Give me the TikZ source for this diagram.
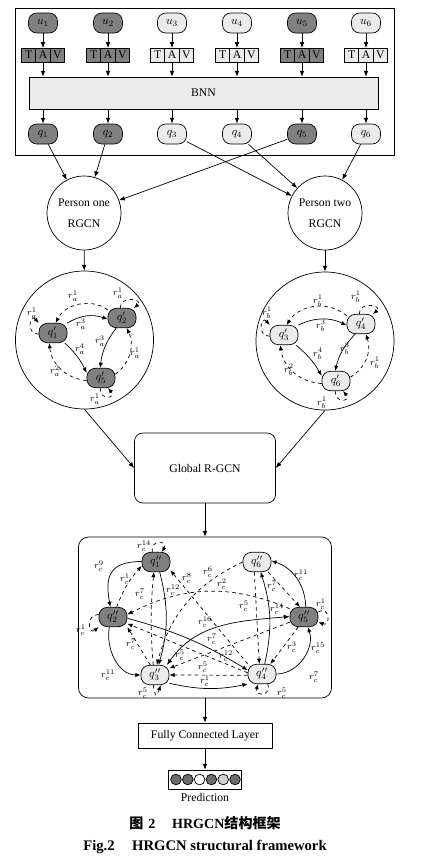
\documentclass[tikz,border=0pt]{standalone}
\usepackage{fontspec}
\setmainfont{Liberation Serif}
\newfontfamily\cjk{Noto Sans CJK SC}
\usetikzlibrary{arrows.meta,positioning}
\definecolor{nodedark}{gray}{0.5}
\definecolor{nodelight}{gray}{0.92}
\definecolor{preddark}{gray}{0.42}
\definecolor{predlight}{gray}{0.82}
\tikzset{
  >={Latex[length=5pt,width=4pt]},
  unode/.style={draw,rounded corners=0.25cm,minimum width=0.87cm,minimum height=0.6cm,inner sep=0pt},
  gnode/.style={unode,minimum width=0.84cm,minimum height=0.58cm},
  darknode/.style={fill=nodedark},
  lightnode/.style={fill=nodelight},
  cell/.style={draw,minimum width=0.43cm,minimum height=0.42cm,inner sep=0pt,outer sep=0pt},
  flow/.style={-{Latex[length=4.5pt,width=3.6pt]}},
  rel/.style={flow,dashed},
  lbl/.style={font=\footnotesize,inner sep=0pt},
}
\begin{document}
\begin{tikzpicture}[x=0.03cm,y=-0.03cm,line width=0.6pt]
\useasboundingbox (0,0) rectangle (423,862);
\node[draw,minimum width=11.37cm,minimum height=4.41cm] (top) at (204.5,81.5) {};
\node[draw,fill=nodelight,minimum width=10.47cm,minimum height=0.96cm] (bnn) at (203.5,93) {BNN};
\foreach \x/\tone [count=\i] in {43/darknode,108/darknode,172/lightnode,237/lightnode,302/darknode,366/lightnode}{
  \node[unode,\tone] (u\i) at (\x,23) {$u_{\i}$};
  \node[cell,\tone] (A\i) at (\x,55) {A};
  \node[cell,\tone,left=0pt of A\i] (T\i) {T};
  \node[cell,\tone,right=0pt of A\i] (V\i) {V};
  \node[unode,\tone] (q\i) at (\x,134) {$q_{\i}$};
  \draw[->] (u\i) -- (A\i);
  \draw[->] (A\i) -- (A\i |- bnn.north);
  \draw[->] (A\i |- bnn.south) -- (q\i);
}
\node[circle,draw,minimum size=2.22cm,align=center,inner sep=0pt] (p1) at (84,213) {Person one\\[6pt]RGCN};
\node[circle,draw,minimum size=2.22cm,align=center,inner sep=0pt] (p2) at (325,213) {Person two\\[6pt]RGCN};
\foreach \i in {1,2,5} \draw[->] (q\i) -- (p1);
\foreach \i in {3,4,6} \draw[->] (q\i) -- (p2);
\node[circle,draw,minimum size=4.14cm] (g1) at (84.5,340) {};
\node[circle,draw,minimum size=4.14cm] (g2) at (325,341) {};
\draw[->] (p1) -- (g1);
\draw[->] (p2) -- (g2);
\node[gnode,darknode] (a1) at (53,333) {$q'_1$};
\node[gnode,darknode] (a2) at (122,318) {$q'_2$};
\node[gnode,darknode] (a5) at (101,378) {$q'_5$};
\draw[rel] (a2.150) to[bend right=50] (a1.75) node[lbl] at (73,296) {$r_a^1$};
\draw[flow] (a1.35) to[bend left=25] (a2.185) node[lbl] at (81,324) {$r_a^3$};
\draw[rel] (a1.185) .. controls +(180:4mm) and +(130:4mm) .. (a1.145) node[lbl] at (32,313) {$r_a^1$};
\draw[rel] (a2.100) .. controls +(90:4mm) and +(40:4mm) .. (a2.40) node[lbl] at (118,293) {$r_a^1$};
\draw[flow] (a2.240) to[bend right=15] (a5.95) node[lbl] at (100,341) {$r_a^3$};
\draw[rel] (a5.15) to[bend right=40] (a2.295) node[lbl] at (135,353) {$r_a^1$};
\draw[flow] (a1.320) to[bend left=10] (a5.160) node[lbl] at (80,349) {$r_a^4$};
\draw[rel] (a5.190) to[bend left=40] (a1.250) node[lbl] at (55,371) {$r_a^2$};
\draw[rel] (a5.265) .. controls +(-90:4mm) and +(-50:4mm) .. (a5.305) node[lbl] at (95,399) {$r_a^1$};
\node[gnode,lightnode] (b3) at (284,335) {$q'_3$};
\node[gnode,lightnode] (b4) at (361,324) {$q'_4$};
\node[gnode,lightnode] (b6) at (336,381) {$q'_6$};
\draw[rel] (b4.150) to[bend right=50] (b3.75) node[lbl] at (318,301) {$r_b^1$};
\draw[flow] (b3.35) to[bend left=25] (b4.185) node[lbl] at (321,326) {$r_b^3$};
\draw[rel] (b3.185) .. controls +(180:4mm) and +(130:4mm) .. (b3.145) node[lbl] at (267,313) {$r_b^1$};
\draw[rel] (b4.100) .. controls +(90:4mm) and +(40:4mm) .. (b4.40) node[lbl] at (356,297) {$r_b^1$};
\draw[flow] (b4.240) to[bend right=15] (b6.95) node[lbl] at (345,349) {$r_b^3$};
\draw[rel] (b6.15) to[bend right=40] (b4.295) node[lbl] at (375,363) {$r_b^1$};
\draw[flow] (b3.320) to[bend left=10] (b6.160) node[lbl] at (318,354) {$r_b^4$};
\draw[rel] (b6.190) to[bend left=40] (b3.250) node[lbl] at (289,370) {$r_b^2$};
\draw[rel] (b6.265) .. controls +(-90:4mm) and +(-50:4mm) .. (b6.305) node[lbl] at (322,403) {$r_b^1$};
\node[draw,rounded corners=0.25cm,minimum width=4.23cm,minimum height=2.1cm] (glob) at (205,468) {Global R-GCN};
\draw[->] (g1.south) -- (glob.west);
\draw[->] (g2.south) -- (glob.east);
\node[draw,rounded corners=0.3cm,minimum width=7.59cm,minimum height=4.83cm] (hg) at (205,617.5) {};
\draw[->] (glob) -- (hg);
\node[gnode,darknode] (c1) at (156,562) {$q''_1$};
\node[gnode,darknode] (c2) at (113,617) {$q''_2$};
\node[gnode,lightnode] (c3) at (155,675) {$q''_3$};
\node[gnode,lightnode] (c4) at (262,674) {$q''_4$};
\node[gnode,darknode] (c5) at (304,617) {$q''_5$};
\node[gnode,lightnode] (c6) at (257,562) {$q''_6$};
\draw[rel] (c1.110) .. controls +(100:4mm) and +(60:4mm) .. (c1.60) node[lbl] at (144,546) {$r_c^{14}$};
\draw[flow] (c1.178) .. controls +(180:1cm) and +(100:0.9cm) .. (c2.105) node[lbl] at (99,566) {$r_c^9$};
\draw[rel] (c2.70) to[bend left=10] (c1.195) node[lbl] at (125,579) {$r_c^1$};
\draw[rel] (c3.100) to[bend left=5] (c1.258) node[lbl] at (140,594) {$r_c^7$};
\draw[flow] (c1.290) to[bend left=15] (c3.70) node[lbl] at (173,590) {$r_c^{12}$};
\draw[rel] (c4.145) -- (c1.330) node[lbl] at (187,578) {$r_c^8$};
\draw[rel] (c5.150) to[bend right=25] (c2.10) node[lbl] at (222,584) {$r_c^2$};
\draw[rel] (c6.180) to[bend right=25] (c3.80) node[lbl] at (208,572) {$r_c^6$};
\draw[rel] (c6.255) -- (c4.105) node[lbl] at (244,606) {$r_c^5$};
\draw[flow] (c4.75) to[bend right=15] (c6.290) node[lbl] at (277,609) {$r_c^{14}$};
\draw[rel] (c6.318) -- (c5.112) node[lbl] at (272,586) {$r_c^7$};
\draw[flow] (c5.80) to[bend right=35] (c6.5) node[lbl] at (301,575) {$r_c^{11}$};
\draw[rel] (c5.20) .. controls +(30:4mm) and +(-20:4mm) .. (c5.-20) node[lbl] at (321,604) {$r_c^1$};
\draw[rel] (c5.240) -- (c4.50) node[lbl] at (292,647) {$r_c^3$};
\draw[flow] (c4.east) to[out=0,in=-70] (c5.290) node[lbl] at (318,648) {$r_c^{15}$} node[lbl] at (314,677) {$r_c^7$};
\draw[rel] (c4.300) .. controls +(-70:4mm) and +(-110:4mm) .. (c4.250) node[lbl] at (282,693) {$r_c^5$};
\draw[rel] (c3.260) .. controls +(-80:4mm) and +(-110:4mm) .. (c3.300) node[lbl] at (143,693) {$r_c^5$};
\draw[rel] (c2.170) .. controls +(180:4mm) and +(220:4mm) .. (c2.215) node[lbl] at (81,630) {$r_c^1$};
\draw[flow] (c2.250) to[out=-100,in=180] (c3.west) node[lbl] at (108,675) {$r_c^{11}$};
\draw[rel] (c3.115) -- (c2.325) node[lbl] at (131,644) {$r_c^7$};
\draw[<->] (c3.40) to[out=55,in=185] (c5.178) node[lbl] at (205,622) {$r_c^{16}$};
\draw[flow] (c2.355) to[bend left=8] (c4.165) node[lbl] at (212,639) {$r_c^7$};
\draw[rel] (c4.175) -- (c2.335) node[lbl] at (226,656) {$r_c^{12}$};
\draw[rel] (c5.200) -- (c3.25) node[lbl] at (180,655) {$r_c^5$};
\draw[rel] (c4.185) -- (c3.0) node[lbl] at (203,667) {$r_c^5$};
\draw[flow] (c3.330) to[bend right=12] (c4.215) node[lbl] at (205,681) {$r_c^1$};
\node[draw,minimum width=4.02cm,minimum height=0.75cm] (fc) at (205,735.5) {Fully Connected Layer};
\draw[->] (hg) -- (fc);
\node[draw,minimum width=2.19cm,minimum height=0.57cm] (pred) at (205,779.5) {};
\draw[->] (fc) -- (pred);
\foreach \tone [count=\i] in {preddark,preddark,white,preddark,predlight,preddark}
  \node[circle,draw,fill=\tone,minimum size=0.32cm,inner sep=0pt] (o\i) at (164.2+11.8*\i,779.5) {};
\node[below=0pt of pred] (predlbl) {Prediction};
\node[font=\fontsize{12}{14}\selectfont\bfseries] (capcn) at (205,823) {{\cjk 图}\hspace{0.35em}2\hspace{1.2em}HRGCN{\cjk 结构框架}};
\node[font=\fontsize{12.5}{15}\selectfont\bfseries] (capen) at (205,847) {Fig.2\hspace{1.2em}HRGCN structural framework};
\end{tikzpicture}
\end{document}
